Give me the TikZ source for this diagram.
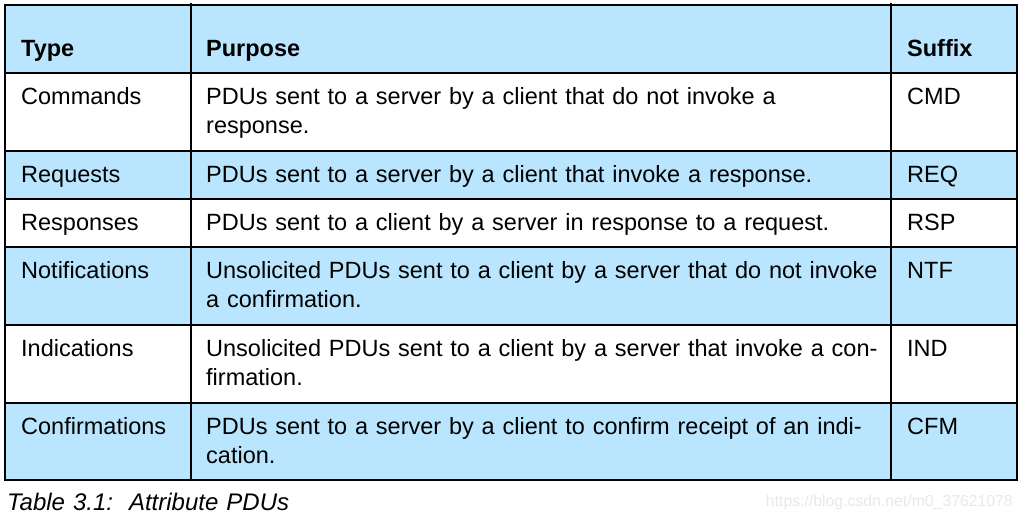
\documentclass[tikz,border=0pt]{standalone}
\usepackage{fontspec}
\setmainfont[WordSpace=1.2]{Liberation Sans}
\definecolor{rowblue}{RGB}{185,230,254}
\definecolor{wm}{RGB}{232,232,232}
\newcommand{\twolines}[2]{\vtop{\baselineskip=29pt\hbox{#1}\hbox{#2}}}
\begin{document}
\begin{tikzpicture}[x=1pt,y=-1pt,
  cell/.style={anchor=base west,inner sep=0pt,font=\fontsize{23.5}{29}\selectfont},
  head/.style={cell,font=\fontsize{23.5}{29}\selectfont\bfseries},
  grid/.style={line width=1.4pt,black}]
\useasboundingbox (0,0) rectangle (1023,519);
% fills
\fill[rowblue] (5,5) rectangle (1017,73);
\fill[rowblue] (5,151) rectangle (1017,199);
\fill[rowblue] (5,247) rectangle (1017,325);
\fill[rowblue] (5,403) rectangle (1017,480);
% grid
\draw[grid] (5,5) rectangle (1017,480);
\foreach \y in {73,151,199,247,325,403} \draw[grid] (5,\y) -- (1017,\y);
\draw[grid] (191,3) -- (191,480);
\draw[grid] (891,3) -- (891,480);
% header
\node[head] (h1) at (21,57) {Type};
\node[head] (h2) at (206,57) {Purpose};
\node[head] (h3) at (907,57) {Suffix};
% rows
\node[cell] (t1) at (21,104) {Commands};
\node[cell] (p1) at (206,104) {\twolines{PDUs sent to a server by a client that do not invoke a}{response.}};
\node[cell] (s1) at (907,104) {CMD};
\node[cell] (t2) at (21,182) {Requests};
\node[cell] (p2) at (206,182) {PDUs sent to a server by a client that invoke a response.};
\node[cell] (s2) at (907,182) {REQ};
\node[cell] (t3) at (21,230) {Responses};
\node[cell] (p3) at (206,230) {PDUs sent to a client by a server in response to a request.};
\node[cell] (s3) at (907,230) {RSP};
\node[cell] (t4) at (21,278) {Notifications};
\node[cell] (p4) at (206,278) {\twolines{Unsolicited PDUs sent to a client by a server that do not invoke}{a confirmation.}};
\node[cell] (s4) at (907,278) {NTF};
\node[cell] (t5) at (21,356) {Indications};
\node[cell] (p5) at (206,356) {\twolines{Unsolicited PDUs sent to a client by a server that invoke a con-}{firmation.}};
\node[cell] (s5) at (907,356) {IND};
\node[cell] (t6) at (21,434) {Confirmations};
\node[cell] (p6) at (206,434) {\twolines{PDUs sent to a server by a client to confirm receipt of an indi-}{cation.}};
\node[cell] (s6) at (907,434) {CFM};
% caption
\node[cell,font=\fontsize{24}{28}\selectfont\itshape] (cap) at (7,510) {Table 3.1:\ \ Attribute PDUs};
\node[anchor=base east,inner sep=0pt,text=wm,font=\fontsize{15.8}{18}\selectfont] (wmk) at (1013,506) {https://blog.csdn.net/m0\_37621078};
\end{tikzpicture}
\end{document}
